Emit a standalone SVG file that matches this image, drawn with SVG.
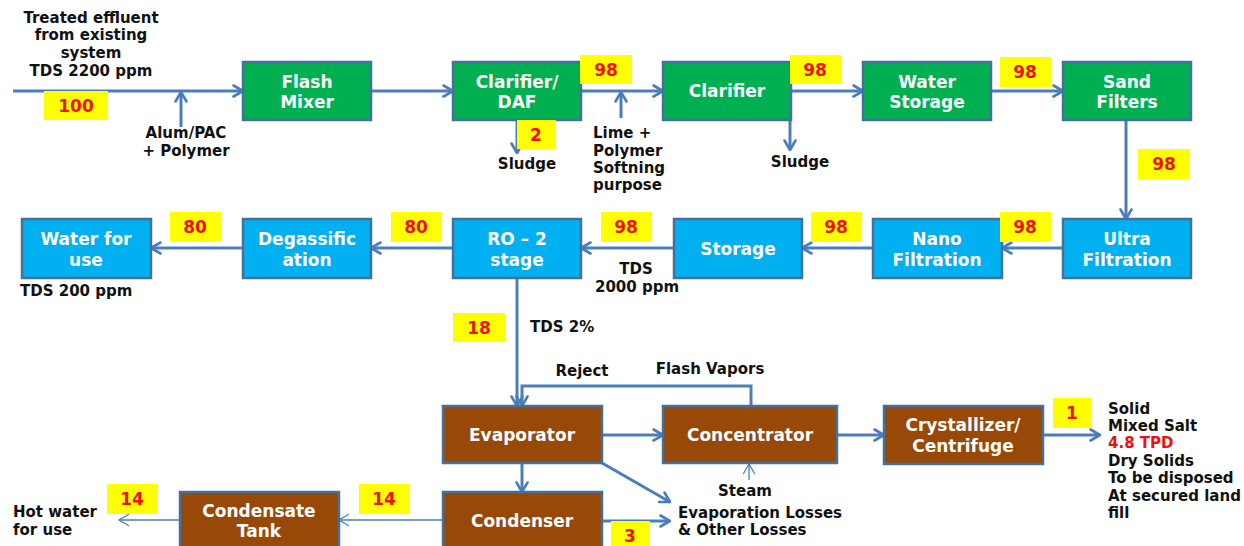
<svg xmlns="http://www.w3.org/2000/svg" width="1244" height="546" viewBox="0 0 1244 546">
<defs>
<style>
.box{stroke:#41719c;stroke-width:2.5}
.g{fill:#00b050}.b{fill:#00b0f0}.r{fill:#984807}
.bt{font-family:"DejaVu Sans",sans-serif;font-weight:bold;font-size:17px;fill:#ffffff;text-anchor:middle}
.t{font-family:"DejaVu Sans",sans-serif;font-weight:bold;font-size:15px;fill:#111111}
.c{text-anchor:middle}
.lab{fill:#ffff00}
.lt{font-family:"DejaVu Sans",sans-serif;font-weight:bold;font-size:17px;fill:#ee1111;text-anchor:middle}
.ln{fill:none;stroke:#4a7ebb;stroke-width:3;marker-end:url(#ah)}
.thin{fill:none;stroke:#4a7ebb;stroke-width:1.3;marker-end:url(#ahs)}
</style>
<marker id="ah" viewBox="0 0 12 14" refX="11" refY="7" markerWidth="12" markerHeight="14" markerUnits="userSpaceOnUse" orient="auto">
<path d="M1.5,1.5 L11,7 L1.5,12.5" fill="none" stroke="#4a7ebb" stroke-width="2.6" stroke-linecap="round" stroke-linejoin="round"/>
</marker>
<marker id="ahs" viewBox="0 0 12 14" refX="11" refY="7" markerWidth="12" markerHeight="14" markerUnits="userSpaceOnUse" orient="auto">
<path d="M1.5,1.5 L11,7 L1.5,12.5" fill="none" stroke="#4a7ebb" stroke-width="1.3" stroke-linecap="round"/>
</marker>
</defs>
<rect width="1244" height="546" fill="#ffffff"/>

<g id="connectors">
<path class="ln" d="M13,91 H243"/>
<path class="ln" d="M181,127 V92"/>
<path class="ln" d="M371,91 H453"/>
<path class="ln" d="M581,91 H663"/>
<path class="ln" d="M621,118 V92"/>
<path class="ln" d="M517,120 V153"/>
<path class="ln" d="M790,120 V150"/>
<path class="ln" d="M780,91 H863"/>
<path class="ln" d="M991,91 H1063"/>
<path class="ln" d="M1126,120 V219"/>
<path class="ln" d="M1063,248 H1002"/>
<path class="ln" d="M873,248 H802"/>
<path class="ln" d="M674,248 H581"/>
<path class="ln" d="M453,248 H371"/>
<path class="ln" d="M243,248 H151"/>
<path class="ln" d="M517,278 V406"/>
<path class="ln" d="M751,406 V386 H522 V406"/>
<path class="ln" d="M602,435 H663"/>
<path class="ln" d="M837,435 H884"/>
<path class="ln" d="M1043,435 H1100"/>
<path class="thin" d="M749,480 V464"/>
<path class="ln" d="M522,463 V492"/>
<path class="ln" d="M602,463 L670,502"/>
<path class="ln" d="M602,521 H670"/>
<path class="thin" d="M443,520 H339"/>
<path class="thin" d="M180,520 H119"/>
</g>

<g id="flash-mixer"><rect class="box g" x="243" y="62" width="128" height="58"/><text class="bt" x="307" y="88">Flash</text><text class="bt" x="307" y="108">Mixer</text></g>
<g id="clarifier-daf"><rect class="box g" x="453" y="62" width="128" height="58"/><text class="bt" x="517" y="88">Clarifier/</text><text class="bt" x="517" y="108">DAF</text></g>
<g id="clarifier"><rect class="box g" x="663" y="62" width="128" height="58"/><text class="bt" x="727" y="97">Clarifier</text></g>
<g id="water-storage"><rect class="box g" x="863" y="62" width="128" height="58"/><text class="bt" x="927" y="88">Water</text><text class="bt" x="927" y="108">Storage</text></g>
<g id="sand-filters"><rect class="box g" x="1063" y="62" width="128" height="58"/><text class="bt" x="1127" y="88">Sand</text><text class="bt" x="1127" y="108">Filters</text></g>

<g id="water-for-use"><rect class="box b" x="22" y="219" width="129" height="59"/><text class="bt" x="86" y="245">Water for</text><text class="bt" x="86" y="266">use</text></g>
<g id="degassification"><rect class="box b" x="243" y="219" width="128" height="59"/><text class="bt" x="307" y="245">Degassific</text><text class="bt" x="307" y="266">ation</text></g>
<g id="ro-2-stage"><rect class="box b" x="453" y="219" width="128" height="59"/><text class="bt" x="517" y="245">RO – 2</text><text class="bt" x="517" y="266">stage</text></g>
<g id="storage"><rect class="box b" x="674" y="219" width="128" height="59"/><text class="bt" x="738" y="255">Storage</text></g>
<g id="nano-filtration"><rect class="box b" x="873" y="219" width="129" height="59"/><text class="bt" x="937" y="245">Nano</text><text class="bt" x="937" y="266">Filtration</text></g>
<g id="ultra-filtration"><rect class="box b" x="1063" y="219" width="128" height="59"/><text class="bt" x="1127" y="245">Ultra</text><text class="bt" x="1127" y="266">Filtration</text></g>

<g id="evaporator"><rect class="box r" x="443" y="406" width="159" height="57"/><text class="bt" x="522" y="441">Evaporator</text></g>
<g id="concentrator"><rect class="box r" x="663" y="406" width="174" height="57"/><text class="bt" x="750" y="441">Concentrator</text></g>
<g id="crystallizer"><rect class="box r" x="884" y="406" width="159" height="58"/><text class="bt" x="963" y="431">Crystallizer/</text><text class="bt" x="963" y="452">Centrifuge</text></g>
<g id="condenser"><rect class="box r" x="443" y="492" width="159" height="62"/><text class="bt" x="522" y="527">Condenser</text></g>
<g id="condensate-tank"><rect class="box r" x="180" y="492" width="159" height="62"/><text class="bt" x="259" y="517">Condensate</text><text class="bt" x="259" y="537">Tank</text></g>

<g id="flow-labels">
<rect class="lab" x="44" y="91" width="64" height="29"/><text class="lt" x="76" y="112">100</text>
<rect class="lab" x="580" y="55" width="52" height="29"/><text class="lt" x="606" y="76">98</text>
<rect class="lab" x="517" y="120" width="39" height="29"/><text class="lt" x="536" y="141">2</text>
<rect class="lab" x="790" y="55" width="51" height="29"/><text class="lt" x="815" y="76">98</text>
<rect class="lab" x="1000" y="57" width="51" height="30"/><text class="lt" x="1025" y="78">98</text>
<rect class="lab" x="1138" y="149" width="52" height="30"/><text class="lt" x="1164" y="170">98</text>
<rect class="lab" x="170" y="212" width="51" height="30"/><text class="lt" x="195" y="233">80</text>
<rect class="lab" x="391" y="212" width="51" height="30"/><text class="lt" x="416" y="233">80</text>
<rect class="lab" x="601" y="212" width="51" height="30"/><text class="lt" x="626" y="233">98</text>
<rect class="lab" x="811" y="212" width="51" height="30"/><text class="lt" x="836" y="233">98</text>
<rect class="lab" x="1000" y="212" width="51" height="30"/><text class="lt" x="1025" y="233">98</text>
<rect class="lab" x="453" y="313" width="52" height="29"/><text class="lt" x="479" y="334">18</text>
<rect class="lab" x="1053" y="398" width="39" height="30"/><text class="lt" x="1072" y="419">1</text>
<rect class="lab" x="107" y="484" width="51" height="30"/><text class="lt" x="132" y="505">14</text>
<rect class="lab" x="359" y="484" width="51" height="30"/><text class="lt" x="384" y="505">14</text>
<rect class="lab" x="611" y="521" width="39" height="30"/><text class="lt" x="630" y="542">3</text>
</g>

<g id="annotations">
<text class="t c" x="91" y="23">Treated effluent</text>
<text class="t c" x="91" y="40">from existing</text>
<text class="t c" x="91" y="58">system</text>
<text class="t c" x="91" y="76">TDS 2200 ppm</text>
<text class="t c" x="186" y="138">Alum/PAC</text>
<text class="t c" x="186" y="156">+ Polymer</text>
<text class="t c" x="527" y="169">Sludge</text>
<text class="t" x="593" y="138">Lime +</text>
<text class="t" x="593" y="156">Polymer</text>
<text class="t" x="593" y="173">Softning</text>
<text class="t" x="593" y="190">purpose</text>
<text class="t c" x="800" y="167">Sludge</text>
<text class="t" x="20" y="296">TDS 200 ppm</text>
<text class="t c" x="636" y="274">TDS</text>
<text class="t c" x="637" y="292">2000 ppm</text>
<text class="t" x="530" y="332">TDS 2%</text>
<text class="t c" x="582" y="376">Reject</text>
<text class="t c" x="710" y="374">Flash Vapors</text>
<text class="t c" x="745" y="496">Steam</text>
<text class="t" x="678" y="518">Evaporation Losses</text>
<text class="t" x="678" y="535">&amp; Other Losses</text>
<text class="t" x="1108" y="414">Solid</text>
<text class="t" x="1108" y="431">Mixed Salt</text>
<text class="t" x="1108" y="448" style="fill:#ee1111">4.8 TPD</text>
<text class="t" x="1108" y="466">Dry Solids</text>
<text class="t" x="1108" y="483">To be disposed</text>
<text class="t" x="1108" y="501">At secured land</text>
<text class="t" x="1108" y="518">fill</text>
<text class="t" x="13" y="517">Hot water</text>
<text class="t" x="13" y="535">for use</text>
</g>
</svg>
